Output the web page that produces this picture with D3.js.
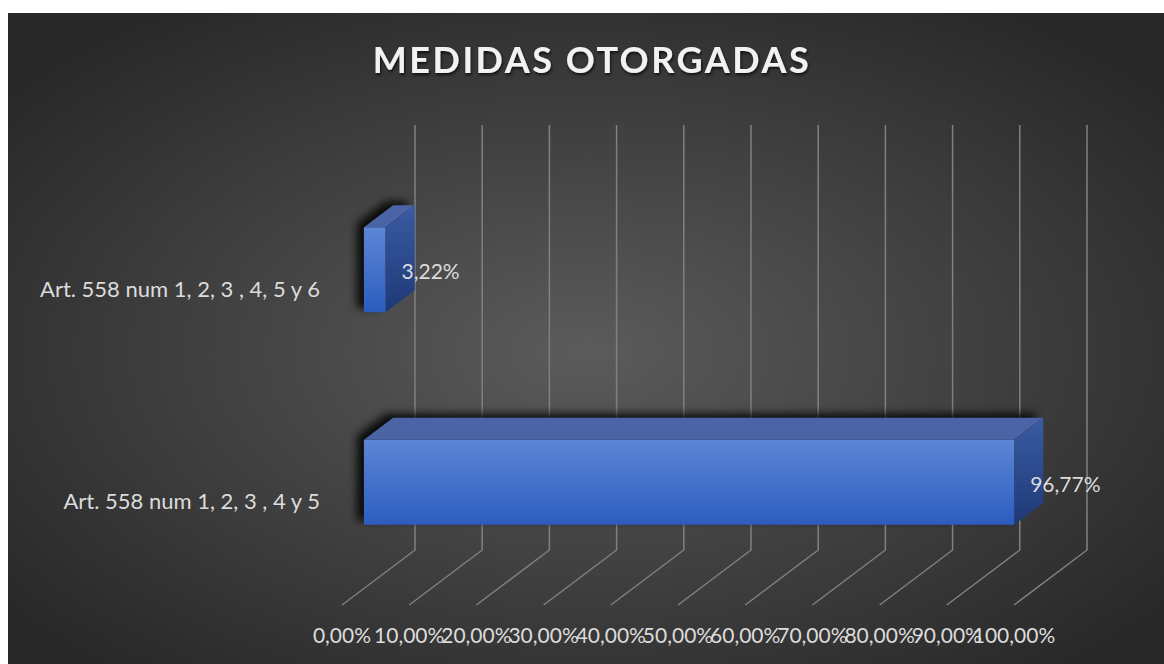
<!DOCTYPE html>
<html>
<head>
<meta charset="utf-8">
<script src="https://cdn.jsdelivr.net/npm/d3@7"></script>
<style>
  body { margin: 0; background: #fff; }
  text { font-family: Lato, "Open Sans", sans-serif; }
</style>
</head>
<body>
<div id="chart"></div>
<script>
// Data
const categories = ["Art. 558 num 1, 2, 3 , 4 y 5", "Art. 558 num 1, 2, 3 , 4, 5 y 6"];
const values = [0.9677, 0.0322];
const valueLabels = ["96,77%", "3,22%"];
const tickValues = [0, 0.1, 0.2, 0.3, 0.4, 0.5, 0.6, 0.7, 0.8, 0.9, 1];

// Set dimensions
const width = 1164;
const height = 664;
const depth = { dx: -73, dy: 55 }; // floor depth vector (back wall -> front)

const locale = d3.formatLocale({ decimal: ",", thousands: ".", grouping: [3], currency: ["", "€"] });
const pct = locale.format(".2%");

const svg = d3.select("#chart")
    .append("svg")
    .attr("width", width)
    .attr("height", height);

const defs = svg.append("defs");

const bg = defs.append("radialGradient").attr("id", "bg")
    .attr("cx", "50%").attr("cy", "52%").attr("r", "64%");
bg.append("stop").attr("offset", "0%").attr("stop-color", "#5b5b5b");
bg.append("stop").attr("offset", "100%").attr("stop-color", "#282828");

const front = defs.append("linearGradient").attr("id", "front")
    .attr("x1", 0).attr("y1", 0).attr("x2", 0).attr("y2", 1);
front.append("stop").attr("offset", "0%").attr("stop-color", "#5d86d6");
front.append("stop").attr("offset", "100%").attr("stop-color", "#2c5cbe");

const side = defs.append("linearGradient").attr("id", "side")
    .attr("x1", 0).attr("y1", 0).attr("x2", 0).attr("y2", 1);
side.append("stop").attr("offset", "0%").attr("stop-color", "#3a5ba3");
side.append("stop").attr("offset", "100%").attr("stop-color", "#1e3977");

defs.append("filter").attr("id", "blur")
    .attr("x", "-50%").attr("y", "-50%").attr("width", "200%").attr("height", "200%")
    .append("feGaussianBlur").attr("stdDeviation", 4);

const tshadow = defs.append("filter").attr("id", "tshadow");
tshadow.append("feDropShadow").attr("dx", 1).attr("dy", 2).attr("stdDeviation", 1.5)
    .attr("flood-color", "#000").attr("flood-opacity", 0.7);

// Background
svg.append("rect").attr("x", 8).attr("y", 13)
    .attr("width", width - 8).attr("height", height - 13)
    .attr("fill", "url(#bg)");

// Scales
const x = d3.scaleLinear().domain([0, 1]).range([415, 1087]);
const y = d3.scaleBand().domain(categories).range([550, 125]);
const wallTop = 125, wallBottom = 550;

const proj = (px, py, f) => [px + f * depth.dx, py + f * depth.dy];

// Gridlines (wall + floor)
svg.selectAll(".grid")
    .data(tickValues)
    .enter()
    .append("path")
    .attr("d", d => d3.line()([[x(d), wallTop], [x(d), wallBottom], proj(x(d), wallBottom, 1)]))
    .attr("fill", "none")
    .attr("stroke", "#808080")
    .attr("stroke-width", 1.5);

// Bars
const bw = y.bandwidth();
const bars = categories.map((c, i) => {
    const x0 = x(0), x1 = x(values[i]);
    const yt = y(c) + bw * 0.3, yb = yt + bw * 0.4;
    const fF = 0.7, fB = 0.3;
    return {
        c, label: valueLabels[i],
        front: [proj(x0, yt, fF), proj(x1, yt, fF), proj(x1, yb, fF), proj(x0, yb, fF)],
        top: [proj(x0, yt, fF), proj(x1, yt, fF), proj(x1, yt, fB), proj(x0, yt, fB)],
        side: [proj(x1, yt, fF), proj(x1, yt, fB), proj(x1, yb, fB), proj(x1, yb, fF)],
        shadow: [proj(x0, yt, fF), proj(x0, yt, fB), proj(x1, yt, fB), proj(x1, yb, fF), proj(x0, yb, fF)]
    };
});

const poly = pts => "M" + pts.map(p => p.join(",")).join("L") + "Z";

svg.selectAll(".shadow")
    .data(bars)
    .enter()
    .append("path")
    .attr("d", d => poly(d.shadow))
    .attr("transform", "translate(-7,-4)")
    .attr("fill", "#000")
    .attr("opacity", 0.85)
    .attr("filter", "url(#blur)");

const g = svg.selectAll(".bar").data(bars).enter().append("g");
g.append("path").attr("d", d => poly(d.top)).attr("fill", "#4a64a6");
g.append("path").attr("d", d => poly(d.side)).attr("fill", "url(#side)");
g.append("path").attr("d", d => poly(d.front)).attr("fill", "url(#front)");

// Data labels
g.append("text")
    .attr("x", d => d.front[1][0] + 16)
    .attr("y", d => (d.front[1][1] + d.front[2][1]) / 2 + 2)
    .attr("dy", "0.35em")
    .text(d => d.label)
    .style("font-size", "21px")
    .style("fill", "#dcdcdc");

// Category labels
svg.selectAll(".cat")
    .data(categories)
    .enter()
    .append("text")
    .attr("x", proj(x(0), 0, 1)[0] - 22)
    .attr("y", d => y(d) + bw / 2 + depth.dy + 3)
    .attr("dy", "0.35em")
    .attr("text-anchor", "end")
    .text(d => d)
    .style("font-size", "22px")
    .style("fill", "#dcdcdc");

// Tick labels
svg.selectAll(".tick")
    .data(tickValues)
    .enter()
    .append("text")
    .attr("x", d => proj(x(d), wallBottom, 1)[0])
    .attr("y", proj(0, wallBottom, 1)[1] + 38)
    .attr("text-anchor", "middle")
    .text(d => pct(d))
    .style("font-size", "21px")
    .style("fill", "#dcdcdc");

// Title
svg.append("text")
    .attr("x", 592)
    .attr("y", 73)
    .attr("text-anchor", "middle")
    .text("MEDIDAS OTORGADAS")
    .style("font-size", "36px")
    .style("font-weight", "bold")
    .style("letter-spacing", "2.5px")
    .style("fill", "#f2f2f2")
    .attr("filter", "url(#tshadow)");
</script>
</body>
</html>
